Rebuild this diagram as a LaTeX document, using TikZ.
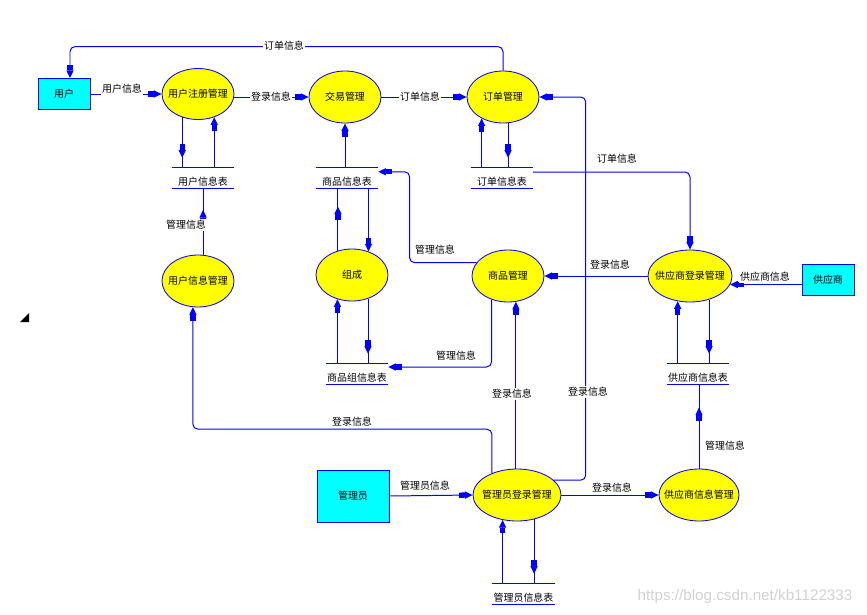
\documentclass[tikz,border=0pt]{standalone}
\usepackage{fontspec}
\newfontfamily\cjk{Noto Sans CJK SC}
\newfontfamily\wmfont{Liberation Sans}
\usetikzlibrary{shapes,arrows.meta}
\usetikzlibrary{decorations.markings}
\definecolor{dfdblue}{RGB}{0,0,255}
\definecolor{dfdyellow}{RGB}{255,255,0}
\definecolor{dfdcyan}{RGB}{0,255,255}
\tikzset{
  dfdtip/.tip={Square[length=5pt,width=4.5pt] Triangle[length=6.5pt,width=6pt]},
  line/.style={draw=dfdblue, color=dfdblue, line width=0.85pt, rounded corners=0.15cm},
  flow/.style={line, -{dfdtip}},
  tostore/.style={line, postaction={decorate},
    decoration={markings, mark=at position -#1 with {\arrow{dfdtip}}}},
  tostore/.default=0.3cm,
  proc/.style={ellipse, draw=dfdblue, fill=dfdyellow, line width=0.7pt,
    minimum width=2.16cm, minimum height=1.56cm, inner xsep=-0.3cm, inner ysep=0pt},
  ext/.style={rectangle, draw=dfdblue, fill=dfdcyan, line width=0.8pt,
    minimum width=1.56cm, minimum height=0.93cm},
  store/.style={minimum width=1.86cm, minimum height=0.6cm, inner sep=0pt,
    text height=0.45cm, text depth=0pt,
    append after command={(\tikzlastnode.north west) edge[line] (\tikzlastnode.north east)
      (\tikzlastnode.south west) edge[line] (\tikzlastnode.south east)}},
  lbl/.style={fill=white, inner sep=1pt}
}

\begin{document}
\begin{tikzpicture}[x=0.03cm, y=-0.03cm, font={\cjk\fontsize{8.5}{10}\selectfont}]
  \useasboundingbox (0,0) rectangle (867,614);

  % entities
  \node[ext] (user) at (64,94) {用户};
  \node[ext] (sup) at (828,280) {供应商};
  \node[ext, minimum width=2.16cm, minimum height=1.56cm] (admin) at (353,496) {管理员};

  % processes
  \node[proc, minimum height=1.53cm] (reg) at (198,94) {用户注册管理};
  \node[proc] (trade) at (345,97) {交易管理};
  \node[proc] (order) at (503,97) {订单管理};
  \node[proc] (uinfo) at (198,281) {用户信息管理};
  \node[proc] (comp) at (352,275) {组成};
  \node[proc] (goods) at (508,276) {商品管理};
  \node[proc, minimum width=2.52cm] (slog) at (690,276) {供应商登录管理};
  \node[proc, minimum width=2.64cm] (alog) at (517,495) {管理员登录管理};
  \node[proc, minimum width=2.4cm] (sinfo) at (699,495) {供应商信息管理};

  % stores
  \node[store] (sUser) at (203,178) {用户信息表};
  \node[store] (sGoods) at (347,178) {商品信息表};
  \node[store] (sOrder) at (502,178) {订单信息表};
  \node[store] (sGroup) at (357,374) {商品组信息表};
  \node[store] (sSup) at (698,374) {供应商信息表};
  \node[store] (sAdmin) at (523.5,594) {管理员信息表};

  \draw[flow] (user.east) -- (reg.west);
  \draw[flow] (reg.east |- trade.west) -- (trade.west);
  \draw[flow] (trade.east) -- (order.west);
  \draw[flow] (order.north) -- ++(0,-24) -| ([xshift=0.18cm]user.north);
  \draw[tostore] (reg.236.5) -- (reg.236.5 |- sUser.north);
  \draw[flow] (reg.305.5 |- sUser.north) -- (reg.305.5);
  \draw[tostore=0.65cm] (uinfo.79) -- (uinfo.79 |- sUser.south);
  \draw[flow] (alog.139.4) -- ++(0,-44) -| (uinfo.259);

  \draw[flow] (trade.south |- sGoods.north) -- (trade.south);
  \draw[tostore=0.55cm] (comp.120.4) -- (comp.120.4 |- sGoods.south);
  \draw[flow] (comp.55.5 |- sGoods.south) -- (comp.55.5);
  \draw[flow] (comp.239.6 |- sGroup.north) -- (comp.239.6);
  \draw[tostore] (comp.304.5) -- (comp.304.5 |- sGroup.north);
  \draw[flow] (goods.157.4) -- ++(-67,0) |- ([yshift=-0.12cm]sGoods.north east);
  \draw[flow] (goods.235.5) |- ([yshift=0.21cm]sGroup.east);

  \draw[flow] (order.225.1 |- sOrder.north) -- (order.225.1);
  \draw[tostore] (order.281) -- (order.281 |- sOrder.north);
  \draw[flow] ([yshift=0.18cm]sOrder.east) -| (slog.north);
  \draw[flow] (slog.west) -- (goods.east);
  \draw[flow] (sup.west |- slog.348.7) -- (slog.348.7);
  \draw[flow] (slog.244.3 |- sSup.north) -- (slog.244.3);
  \draw[tostore] (slog.309.3) -- (slog.309.3 |- sSup.north);
  \draw[tostore=0.7cm] (sinfo.north) -- (sinfo.north |- sSup.south);

  \draw[flow] (admin.east) -- (alog.west);
  \draw[flow] (alog.east) -- (sinfo.west);
  \draw[flow] (goods.287.5 |- alog.north) -- (goods.287.5);
  \draw[flow] (alog.22.7) -- ++(32,0) |- (order.east);
  \draw[flow] (alog.240.4 |- sAdmin.north) -- (alog.240.4);
  \draw[tostore] (alog.305.3) -- (alog.305.3 |- sAdmin.north);

  % flow labels
  \node[lbl] (lTop) at (284,46) {订单信息};
  \node[lbl] (lUser) at (122,89) {用户信息};
  \node[lbl] (lReg) at (271,97) {登录信息};
  \node[lbl] (lTrade) at (420,97) {订单信息};
  \node[lbl] (lUinfo) at (186,225) {管理信息};
  \node[lbl] (lGoodsUp) at (435,250) {管理信息};
  \node[lbl] (lGoodsDn) at (456,356) {管理信息};
  \node[lbl] (lSlog) at (610,265) {登录信息};
  \node[lbl] (lSup) at (765,277) {供应商信息};
  \node[lbl] (lOrdSup) at (617,159) {订单信息};
  \node[lbl] (lAlogUp) at (512,394) {登录信息};
  \node[lbl] (lAlogOrd) at (588,392) {登录信息};
  \node[lbl] (lAlogU) at (352,422) {登录信息};
  \node[lbl] (lAdmin) at (425,486) {管理员信息};
  \node[lbl] (lAlogS) at (612,488) {登录信息};
  \node[lbl] (lSinfo) at (725,446) {管理信息};

  \node[text=black!18, font={\wmfont\fontsize{13}{13}\selectfont}] (wm) at (745,597) {https://blog.csdn.net/kb1122333};
  \fill (20,322) -- (29,322) -- (29,313) -- cycle;
\end{tikzpicture}
\end{document}
